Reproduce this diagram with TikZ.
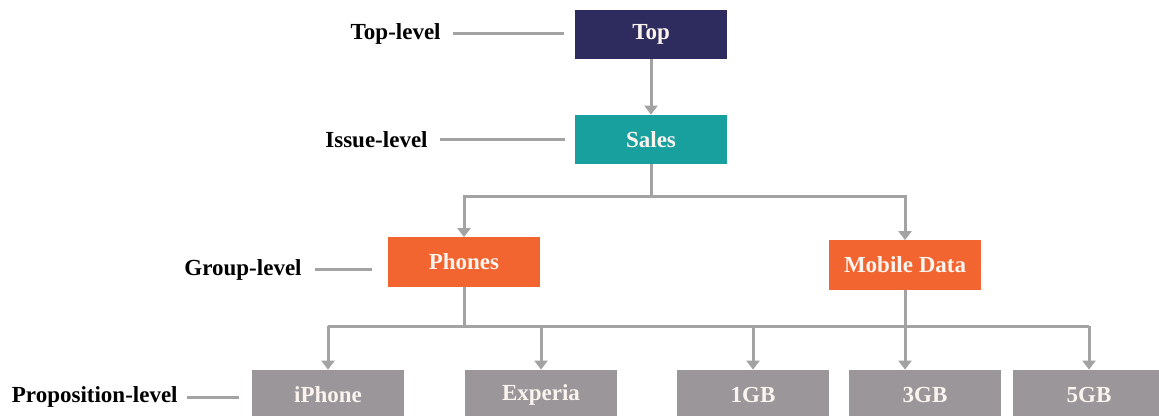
\documentclass[tikz,border=0pt]{standalone}
\usepackage{fontspec}
\setmainfont{Liberation Serif}
\usetikzlibrary{arrows.meta}
\definecolor{navybox}{HTML}{2E2B5F}
\definecolor{tealbox}{HTML}{17A09E}
\definecolor{orangebox}{HTML}{F26530}
\definecolor{greybox}{HTML}{9A969A}
\definecolor{connector}{HTML}{A3A3A3}
\definecolor{boxtext}{HTML}{FBF3EE}
\begin{document}
\begin{tikzpicture}[x=0.5pt,y=-0.5pt,
  box/.style={rectangle, minimum width=76pt, minimum height=24.5pt, inner sep=0pt,
    text=boxtext, font=\bfseries\fontsize{11.5}{13}\selectfont},
  lvl/.style={font=\bfseries\fontsize{11.5}{13}\selectfont, text=black, inner sep=0pt, anchor=east},
  conn/.style={draw=connector, line width=1.5pt},
  arr/.style={conn, -{Triangle[width=6.5pt,length=4.5pt]}},
]
\clip (0,0) rectangle (1159,416);
\fill[white] (0,0) rectangle (1159,416);

% boxes
\node[box, fill=navybox] (top) at (651,34.5) {Top};
\node[box, fill=tealbox] (sales) at (651,139.5) {Sales};
\node[box, fill=orangebox] (phones) at (464,262) {Phones};
\node[box, fill=orangebox] (mdata) at (905,265) {Mobile Data};
\node[box, fill=greybox] (iphone) at (328,394.5) {iPhone};
\node[box, fill=greybox] (experia) at (541,394.5) {Experia};
\node[box, fill=greybox] (gb1) at (753,394.5) {1GB};
\node[box, fill=greybox] (gb3) at (925,394.5) {3GB};
\node[box, fill=greybox] (gb5) at (1089,394.5) {5GB};

% level labels
\node[lvl] (ltop) at (441,34) {Top-level};
\node[lvl] (lissue) at (428,140) {Issue-level};
\node[lvl] (lgroup) at (302,270) {Group-level};
\node[lvl] (lprop) at (178,397) {Proposition-level};

\draw[conn] ([xshift=6pt]ltop.east) -- ([xshift=-5.5pt]top.west |- ltop.east);
\draw[conn] ([xshift=6pt]lissue.east) -- ([xshift=-5pt]sales.west |- lissue.east);
\draw[conn] ([xshift=6.5pt]lgroup.east) -- ([xshift=-8pt]phones.west |- lgroup.east);
\draw[conn] ([xshift=4.5pt]lprop.east) -- ([xshift=-6.5pt]iphone.west |- lprop.east);

% connectors
\draw[arr] (top) -- (sales);
\coordinate (b1) at (651,197);
\draw[conn] (sales) -- (b1);
\draw[arr] (b1) -| (phones);
\draw[arr] (b1) -| (mdata);

\coordinate (b2) at (464,326);
\draw[conn] (phones) -- (b2);
\draw[conn] (iphone.north |- b2) -- (gb5.north |- b2);
\draw[arr] (iphone.north |- b2) -- (iphone.north);
\draw[arr] (experia.north |- b2) -- (experia.north);
\draw[arr] (gb1.north |- b2) -- (gb1.north);
\draw[arr] (gb5.north |- b2) -- (gb5.north);
\draw[arr] (mdata.south) -- (mdata.south |- gb3.north);
\end{tikzpicture}
\end{document}
